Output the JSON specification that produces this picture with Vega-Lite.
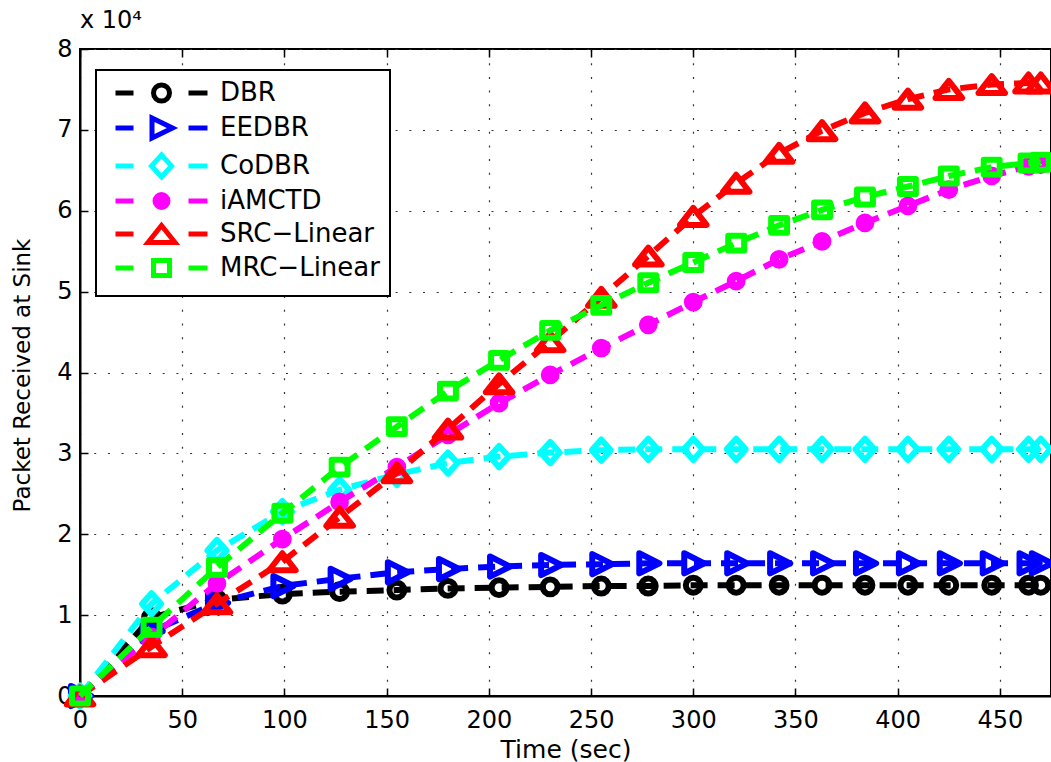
{
  "$schema": "https://vega.github.io/schema/vega-lite/v6.json",
  "width": 971,
  "height": 647,
  "autosize": {"type": "none"},
  "padding": {"left": 80, "top": 49, "right": 0, "bottom": 66},
  "title": {"text": "x 10⁴", "anchor": "start", "frame": "group", "font": "DejaVu Sans", "fontSize": 24, "fontWeight": "normal", "color": "black", "offset": -15, "baseline": "alphabetic"},
  "data": {"values": [
    {"t":0,"s":"DBR","v":0},{"t":35,"s":"DBR","v":9700},{"t":67,"s":"DBR","v":11900},{"t":99,"s":"DBR","v":12600},{"t":127,"s":"DBR","v":12900},{"t":155,"s":"DBR","v":13100},{"t":180,"s":"DBR","v":13300},{"t":205,"s":"DBR","v":13400},{"t":230,"s":"DBR","v":13500},{"t":255,"s":"DBR","v":13600},{"t":278,"s":"DBR","v":13600},{"t":300,"s":"DBR","v":13700},{"t":321,"s":"DBR","v":13700},{"t":342,"s":"DBR","v":13700},{"t":363,"s":"DBR","v":13700},{"t":384,"s":"DBR","v":13700},{"t":405,"s":"DBR","v":13700},{"t":425,"s":"DBR","v":13700},{"t":446,"s":"DBR","v":13700},{"t":464,"s":"DBR","v":13700},{"t":470,"s":"DBR","v":13700},
    {"t":0,"s":"EEDBR","v":0},{"t":35,"s":"EEDBR","v":8000},{"t":67,"s":"EEDBR","v":11500},{"t":99,"s":"EEDBR","v":13600},{"t":127,"s":"EEDBR","v":14500},{"t":155,"s":"EEDBR","v":15300},{"t":180,"s":"EEDBR","v":15700},{"t":205,"s":"EEDBR","v":16000},{"t":230,"s":"EEDBR","v":16200},{"t":255,"s":"EEDBR","v":16300},{"t":278,"s":"EEDBR","v":16400},{"t":300,"s":"EEDBR","v":16400},{"t":321,"s":"EEDBR","v":16400},{"t":342,"s":"EEDBR","v":16400},{"t":363,"s":"EEDBR","v":16400},{"t":384,"s":"EEDBR","v":16400},{"t":405,"s":"EEDBR","v":16400},{"t":425,"s":"EEDBR","v":16400},{"t":446,"s":"EEDBR","v":16400},{"t":464,"s":"EEDBR","v":16400},{"t":470,"s":"EEDBR","v":16400},
    {"t":0,"s":"CoDBR","v":0},{"t":35,"s":"CoDBR","v":11400},{"t":67,"s":"CoDBR","v":18000},{"t":99,"s":"CoDBR","v":22800},{"t":127,"s":"CoDBR","v":25500},{"t":155,"s":"CoDBR","v":27400},{"t":180,"s":"CoDBR","v":28800},{"t":205,"s":"CoDBR","v":29600},{"t":230,"s":"CoDBR","v":30100},{"t":255,"s":"CoDBR","v":30400},{"t":278,"s":"CoDBR","v":30500},{"t":300,"s":"CoDBR","v":30500},{"t":321,"s":"CoDBR","v":30500},{"t":342,"s":"CoDBR","v":30500},{"t":363,"s":"CoDBR","v":30500},{"t":384,"s":"CoDBR","v":30500},{"t":405,"s":"CoDBR","v":30500},{"t":425,"s":"CoDBR","v":30500},{"t":446,"s":"CoDBR","v":30500},{"t":464,"s":"CoDBR","v":30500},{"t":470,"s":"CoDBR","v":30500},
    {"t":0,"s":"iAMCTD","v":0},{"t":35,"s":"iAMCTD","v":7300},{"t":67,"s":"iAMCTD","v":13900},{"t":99,"s":"iAMCTD","v":19400},{"t":127,"s":"iAMCTD","v":24000},{"t":155,"s":"iAMCTD","v":28300},{"t":180,"s":"iAMCTD","v":32300},{"t":205,"s":"iAMCTD","v":36200},{"t":230,"s":"iAMCTD","v":39700},{"t":255,"s":"iAMCTD","v":43000},{"t":278,"s":"iAMCTD","v":45900},{"t":300,"s":"iAMCTD","v":48700},{"t":321,"s":"iAMCTD","v":51300},{"t":342,"s":"iAMCTD","v":54000},{"t":363,"s":"iAMCTD","v":56200},{"t":384,"s":"iAMCTD","v":58500},{"t":405,"s":"iAMCTD","v":60600},{"t":425,"s":"iAMCTD","v":62600},{"t":446,"s":"iAMCTD","v":64300},{"t":464,"s":"iAMCTD","v":65500},{"t":470,"s":"iAMCTD","v":65700},
    {"t":0,"s":"SRC−Linear","v":0},{"t":35,"s":"SRC−Linear","v":6100},{"t":67,"s":"SRC−Linear","v":11400},{"t":99,"s":"SRC−Linear","v":16600},{"t":127,"s":"SRC−Linear","v":22100},{"t":155,"s":"SRC−Linear","v":27600},{"t":180,"s":"SRC−Linear","v":33000},{"t":205,"s":"SRC−Linear","v":38600},{"t":230,"s":"SRC−Linear","v":43800},{"t":255,"s":"SRC−Linear","v":49300},{"t":278,"s":"SRC−Linear","v":54400},{"t":300,"s":"SRC−Linear","v":59300},{"t":321,"s":"SRC−Linear","v":63400},{"t":342,"s":"SRC−Linear","v":67100},{"t":363,"s":"SRC−Linear","v":69900},{"t":384,"s":"SRC−Linear","v":72100},{"t":405,"s":"SRC−Linear","v":73800},{"t":425,"s":"SRC−Linear","v":75000},{"t":446,"s":"SRC−Linear","v":75600},{"t":464,"s":"SRC−Linear","v":75800},{"t":470,"s":"SRC−Linear","v":75800},
    {"t":0,"s":"MRC−Linear","v":0},{"t":35,"s":"MRC−Linear","v":8500},{"t":67,"s":"MRC−Linear","v":15900},{"t":99,"s":"MRC−Linear","v":22600},{"t":127,"s":"MRC−Linear","v":28300},{"t":155,"s":"MRC−Linear","v":33300},{"t":180,"s":"MRC−Linear","v":37700},{"t":205,"s":"MRC−Linear","v":41500},{"t":230,"s":"MRC−Linear","v":45200},{"t":255,"s":"MRC−Linear","v":48300},{"t":278,"s":"MRC−Linear","v":51100},{"t":300,"s":"MRC−Linear","v":53600},{"t":321,"s":"MRC−Linear","v":56000},{"t":342,"s":"MRC−Linear","v":58200},{"t":363,"s":"MRC−Linear","v":60100},{"t":384,"s":"MRC−Linear","v":61700},{"t":405,"s":"MRC−Linear","v":63000},{"t":425,"s":"MRC−Linear","v":64300},{"t":446,"s":"MRC−Linear","v":65400},{"t":464,"s":"MRC−Linear","v":65900},{"t":470,"s":"MRC−Linear","v":66000}
  ]},
  "layer": [
    {
      "transform": [{"filter": "datum.s === 'DBR'"}],
      "mark": {"type": "line", "strokeWidth": 6, "strokeDash": [17, 10], "strokeCap": "butt", "color": "#000000"},
      "encoding": {
        "x": {"field": "t", "type": "quantitative", "scale": {"domain": [0, 475], "nice": false, "zero": false},
          "axis": {"orient": "bottom", "values": [0,50,100,150,200,250,300,350,400,450], "title": "Time (sec)", "labelPadding": 20, "titleY": 61, "titleBaseline": "alphabetic", "labelFlush": false, "labelOverlap": false}},
        "y": {"field": "v", "type": "quantitative", "scale": {"domain": [0, 80000], "nice": false},
          "axis": {"orient": "left", "values": [0,10000,20000,30000,40000,50000,60000,70000,80000], "labelExpr": "datum.value / 10000", "title": "Packet Received at Sink", "titleFontSize": 23, "labelPadding": 16, "titleX": -51, "titleY": 326, "titleBaseline": "alphabetic", "titleAlign": "center", "titleAngle": -90, "labelFlush": false, "labelOverlap": false}}
      }
    },
    {
      "transform": [{"filter": "datum.s === 'DBR'"}],
      "mark": {"type": "point", "shape": "M0.7,0A0.7,0.7,0,1,1,-0.7,0A0.7,0.7,0,1,1,0.7,0Z", "size": 450, "filled": false, "strokeWidth": 6, "strokeJoin": "round", "color": "#000000", "opacity": 1},
      "encoding": {
        "x": {"field": "t", "type": "quantitative", "axis": {"orient": "top", "labels": false, "domain": false, "grid": false, "title": null, "values": [0,50,100,150,200,250,300,350,400,450]}},
        "y": {"field": "v", "type": "quantitative"}
      }
    },
    {
      "transform": [{"filter": "datum.s === 'EEDBR'"}],
      "mark": {"type": "line", "strokeWidth": 6, "strokeDash": [17, 10], "strokeCap": "butt", "color": "#0000ff"},
      "encoding": {"x": {"field": "t", "type": "quantitative", "axis": null}, "y": {"field": "v", "type": "quantitative"}}
    },
    {
      "transform": [{"filter": "datum.s === 'EEDBR'"}],
      "mark": {"type": "point", "shape": "M-0.85,-0.95L1.05,0L-0.85,0.95Z", "size": 450, "filled": false, "strokeWidth": 6, "strokeJoin": "round", "color": "#0000ff", "opacity": 1},
      "encoding": {"x": {"field": "t", "type": "quantitative", "axis": null}, "y": {"field": "v", "type": "quantitative"}}
    },
    {
      "transform": [{"filter": "datum.s === 'CoDBR'"}],
      "mark": {"type": "line", "strokeWidth": 6, "strokeDash": [17, 10], "strokeCap": "butt", "color": "#00ffff"},
      "encoding": {"x": {"field": "t", "type": "quantitative", "axis": null}, "y": {"field": "v", "type": "quantitative"}}
    },
    {
      "transform": [{"filter": "datum.s === 'CoDBR'"}],
      "mark": {"type": "point", "shape": "M0,-1L0.9,0L0,1L-0.9,0Z", "size": 450, "filled": false, "strokeWidth": 6, "strokeJoin": "round", "color": "#00ffff", "opacity": 1},
      "encoding": {"x": {"field": "t", "type": "quantitative", "axis": null}, "y": {"field": "v", "type": "quantitative"}}
    },
    {
      "transform": [{"filter": "datum.s === 'iAMCTD'"}],
      "mark": {"type": "line", "strokeWidth": 6, "strokeDash": [17, 10], "strokeCap": "butt", "color": "#ff00ff"},
      "encoding": {"x": {"field": "t", "type": "quantitative", "axis": null}, "y": {"field": "v", "type": "quantitative"}}
    },
    {
      "transform": [{"filter": "datum.s === 'iAMCTD'"}],
      "mark": {"type": "point", "shape": "M0.6,0A0.6,0.6,0,1,1,-0.6,0A0.6,0.6,0,1,1,0.6,0ZM0.2,0A0.2,0.2,0,1,1,-0.2,0A0.2,0.2,0,1,1,0.2,0Z", "size": 450, "filled": false, "strokeWidth": 6, "strokeJoin": "round", "color": "#ff00ff", "opacity": 1},
      "encoding": {"x": {"field": "t", "type": "quantitative", "axis": null}, "y": {"field": "v", "type": "quantitative"}}
    },
    {
      "transform": [{"filter": "datum.s === 'SRC−Linear'"}],
      "mark": {"type": "line", "strokeWidth": 6, "strokeDash": [17, 10], "strokeCap": "butt", "color": "#ff0000"},
      "encoding": {"x": {"field": "t", "type": "quantitative", "axis": null}, "y": {"field": "v", "type": "quantitative"}}
    },
    {
      "transform": [{"filter": "datum.s === 'SRC−Linear'"}],
      "mark": {"type": "point", "shape": "M0,-0.8L1.25,0.8L-1.25,0.8Z", "size": 450, "filled": false, "strokeWidth": 6, "strokeJoin": "round", "color": "#ff0000", "opacity": 1},
      "encoding": {"x": {"field": "t", "type": "quantitative", "axis": null}, "y": {"field": "v", "type": "quantitative"}}
    },
    {
      "transform": [{"filter": "datum.s === 'MRC−Linear'"}],
      "mark": {"type": "line", "strokeWidth": 6, "strokeDash": [17, 10], "strokeCap": "butt", "color": "#00ff00"},
      "encoding": {"x": {"field": "t", "type": "quantitative", "axis": null}, "y": {"field": "v", "type": "quantitative"}}
    },
    {
      "transform": [{"filter": "datum.s === 'MRC−Linear'"}],
      "mark": {"type": "point", "shape": "M-0.75,-0.7H0.75V0.7H-0.75Z", "size": 450, "filled": false, "strokeWidth": 6, "strokeJoin": "round", "color": "#00ff00", "opacity": 1},
      "encoding": {"x": {"field": "t", "type": "quantitative", "axis": null}, "y": {"field": "v", "type": "quantitative"}}
    },
    {
      "mark": {"type": "point", "filled": false, "opacity": 0},
      "encoding": {
        "x": {"field": "t", "type": "quantitative", "axis": null},
        "y": {"field": "v", "type": "quantitative"},
        "color": {"field": "s", "type": "nominal", "scale": {"domain": ["DBR","EEDBR","CoDBR","iAMCTD","SRC−Linear","MRC−Linear"], "range": ["#000000","#0000ff","#00ffff","#ff00ff","#ff0000","#00ff00"]},
          "legend": {"title": null, "orient": "none", "legendX": 16, "legendY": 21, "symbolSize": 400, "symbolStrokeWidth": 5, "symbolOpacity": 1, "symbolOffset": 9, "labelOffset": 79, "rowPadding": -3, "padding": 10, "strokeColor": "black", "fillColor": "white", "labelFont": "DejaVu Sans", "labelFontSize": 26, "labelColor": "black", "labelLimit": 0}},
        "shape": {"field": "s", "type": "nominal", "scale": {"domain": ["DBR","EEDBR","CoDBR","iAMCTD","SRC−Linear","MRC−Linear"], "range": [
          "M-1.25,0H0.55M6.05,0H7.95M4.15,0A0.8,0.8,0,1,1,2.55,0A0.8,0.8,0,1,1,4.15,0Z",
          "M-1.25,0H0.55M6.05,0H7.95M2.4,-1L4.45,0L2.4,1Z",
          "M-1.25,0H0.55M6.05,0H7.95M3.35,-1.1L4.35,0L3.35,1.1L2.35,0Z",
          "M-1.25,0H0.55M6.05,0H7.95M4,0A0.65,0.65,0,1,1,2.7,0A0.65,0.65,0,1,1,4,0ZM3.6,0A0.25,0.25,0,1,1,3.1,0A0.25,0.25,0,1,1,3.6,0Z",
          "M-1.25,0H0.55M6.05,0H7.95M3.35,-0.85L4.7,0.85L2,0.85Z",
          "M-1.25,0H0.55M6.05,0H7.95M2.55,-0.75H4.15V0.75H2.55Z"
        ]}}
      }
    }
  ],
  "resolve": {"axis": {"x": "independent"}},
  "config": {
    "font": "DejaVu Sans",
    "view": {"stroke": "black", "strokeWidth": 2},
    "axis": {"labelFont": "DejaVu Sans", "labelFontSize": 24, "labelColor": "black", "titleFont": "DejaVu Sans", "titleFontSize": 25, "titleFontWeight": "normal", "titleColor": "black", "domainColor": "black", "domainWidth": 2, "tickColor": "black", "tickWidth": 1.5, "tickSize": -8, "grid": true, "gridColor": "#333333", "gridOpacity": 1, "gridDash": [2, 11.7], "gridWidth": 1.2},
    "legend": {"strokeWidth": 2}
  }
}
